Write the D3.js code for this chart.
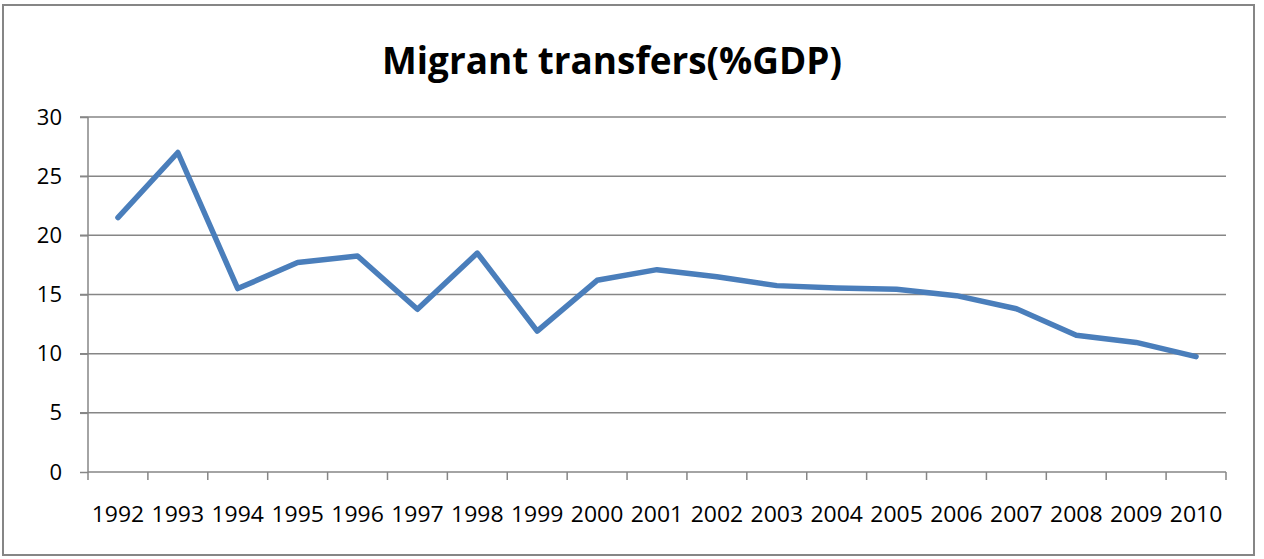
<!DOCTYPE html>
<html><head><meta charset="utf-8">
<script src="https://cdn.jsdelivr.net/npm/d3@7"></script>
<style>body{margin:0;background:#fff;}svg{display:block;}</style>
</head><body>
<svg id="c" width="1264" height="559"></svg>
<script>
const title = "Migrant transfers(%GDP)";
const years = ["1992","1993","1994","1995","1996","1997","1998","1999","2000","2001","2002","2003","2004","2005","2006","2007","2008","2009","2010"];
const values = [21.5,27.0,15.5,17.7,18.25,13.75,18.5,11.9,16.2,17.1,16.5,15.75,15.55,15.45,14.9,13.8,11.55,10.95,9.75];
const yTicks = [0,5,10,15,20,25,30];

const svg = d3.select("#c");
const font = "'Open Sans', sans-serif";
const grey = "#868686";

svg.append("rect").attr("x",3).attr("y",5).attr("width",1251).attr("height",550)
  .attr("fill","#fff").attr("stroke",grey).attr("stroke-width",2);

const L=88, R=1226, T=117, B=472;
const x = d3.scaleBand().domain(years).range([L,R]);
const y = d3.scaleLinear().domain([0,30]).range([B,T]);

// gridlines
svg.append("g").selectAll("line").data(yTicks.filter(d=>d>0)).join("line")
  .attr("x1",L-8).attr("x2",R).attr("y1",d=>y(d)).attr("y2",d=>y(d))
  .attr("stroke",grey).attr("stroke-width",1.5);

// y axis
const ya = svg.append("g").attr("transform",`translate(${L},0)`)
  .call(d3.axisLeft(y).tickValues(yTicks).tickSize(8).tickPadding(18));
ya.select(".domain").attr("stroke",grey).attr("stroke-width",1.5).attr("d",`M0,${T}V${B}`);
ya.selectAll(".tick line").attr("stroke",grey).attr("stroke-width",1.5);
ya.selectAll("text").attr("font-family",font).attr("font-size",22).attr("fill","#000")
  .attr("textLength",function(){return this.textContent.length*12.6;})
  .attr("lengthAdjust","spacingAndGlyphs");

// x axis
const xa = svg.append("g").attr("transform",`translate(0,${B})`)
  .call(d3.axisBottom(x).tickSize(0).tickPadding(0));
xa.select(".domain").attr("stroke",grey).attr("stroke-width",1.5).attr("d",`M${L},0H${R}`);
xa.selectAll(".tick line").remove();
xa.selectAll(".tick text").attr("font-family",font).attr("font-size",22).attr("fill","#000")
  .attr("y",50).attr("dy","0")
  .attr("textLength",52.5).attr("lengthAdjust","spacingAndGlyphs");
// category boundary ticks
const bounds = years.map(d=>x(d)).concat([x(years[years.length-1])+x.bandwidth()]);
svg.append("g").selectAll("line").data(bounds).join("line")
  .attr("x1",d=>d).attr("x2",d=>d).attr("y1",B).attr("y2",B+8)
  .attr("stroke",grey).attr("stroke-width",1.5);

// line
const line = d3.line().x((d,i)=>x(years[i])+x.bandwidth()/2).y(d=>y(d));
svg.append("path").datum(values).attr("d",line).attr("fill","none")
  .attr("stroke","#4a7ebb").attr("stroke-width",5.5).attr("stroke-linejoin","round").attr("stroke-linecap","round");

// title
const t = svg.append("text").attr("x",612).attr("y",74).attr("text-anchor","middle")
  .attr("font-family",font).attr("font-weight","bold").attr("font-size",38).attr("fill","#000").text(title)
  .attr("textLength",460).attr("lengthAdjust","spacingAndGlyphs");
</script>
</body></html>
